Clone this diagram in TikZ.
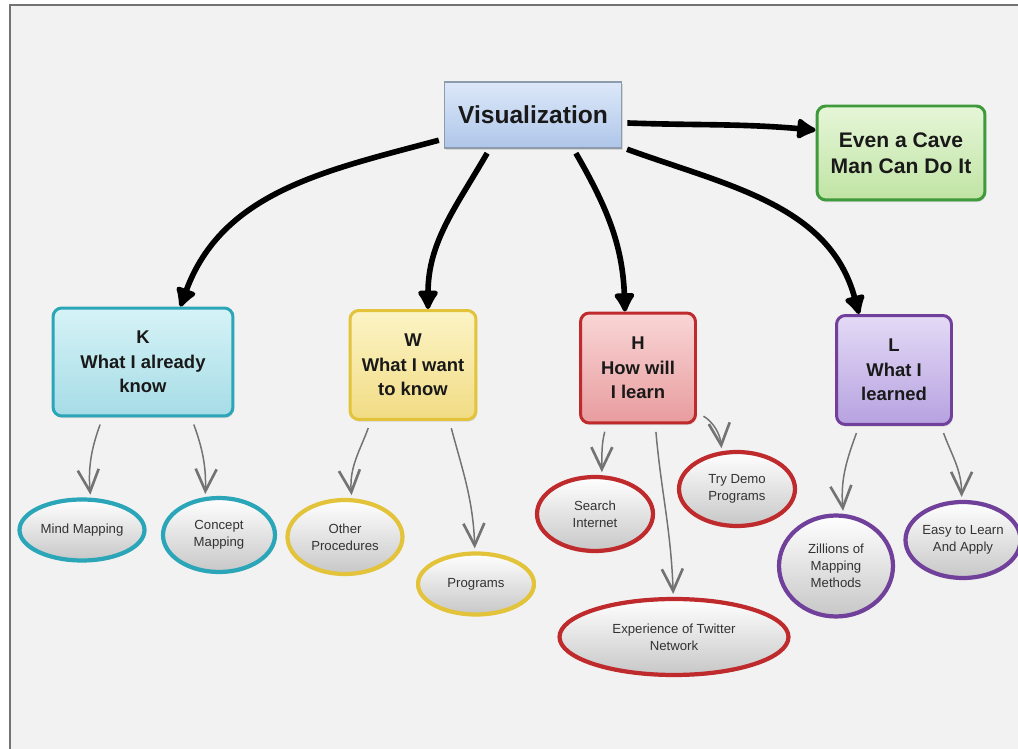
\documentclass[tikz,border=0pt]{standalone}
\usepackage{fontspec}
\setmainfont{Liberation Sans}
\usetikzlibrary{shapes.geometric,arrows.meta,shadows}
\definecolor{vizline}{HTML}{8E9BAA}
\definecolor{vizhi}{HTML}{DCE8F8}
\definecolor{vizlo}{HTML}{AFC6EA}
\definecolor{kline}{HTML}{2AA6B8}
\definecolor{khi}{HTML}{D6F3F7}
\definecolor{klo}{HTML}{A6DCE6}
\definecolor{wline}{HTML}{E2C33A}
\definecolor{whi}{HTML}{FCF4C6}
\definecolor{wlo}{HTML}{F1DC84}
\definecolor{hline}{HTML}{BF2A2C}
\definecolor{hhi}{HTML}{F9D6D6}
\definecolor{hlo}{HTML}{E89C9E}
\definecolor{lline}{HTML}{70409A}
\definecolor{lhi}{HTML}{E4DAF6}
\definecolor{llo}{HTML}{B6A2E0}
\definecolor{cline}{HTML}{3E9A3A}
\definecolor{chi}{HTML}{E6F6D8}
\definecolor{clo}{HTML}{C0E4A4}

\begin{document}
\begin{tikzpicture}[x=0.02cm,y=0.02cm]
\tikzset{box/.style={rectangle, rounded corners=5pt, line width=1.7pt, align=center, text=black!90, font=\bfseries\fontsize{10.5}{14}\selectfont, drop shadow={shadow xshift=0.6pt, shadow yshift=-1.2pt, opacity=0.25}}}
\tikzset{leaf/.style={ellipse, inner sep=0pt, line width=2.4pt, align=center, text=black!80, top color=white, bottom color=black!22, font=\fontsize{7.5}{9.6}\selectfont, drop shadow={shadow xshift=0.5pt, shadow yshift=-1pt, opacity=0.2}}}
\tikzset{connect/.style={-{Latex[length=4.5mm,width=5mm,round]}, line width=3.2pt, black, shorten <=1mm}}
\tikzset{sub/.style={line width=0.85pt, black!55, shorten <=1.5mm, shorten >=0.6mm, -{Straight Barb[length=4.4mm,width=4.2mm,line width=1.5pt]}}}
\useasboundingbox (0,0) rectangle (1018,-749);
\fill[white] (0,0) rectangle (1018,-749);
\fill[black!5] (10,-5) rectangle (1018,-749);
\draw[black!55, line width=0.8pt] (1018,-5) -- (10,-5) -- (10,-749);
% main topic and the four columns
\node[box, rounded corners=0pt, line width=1pt, draw=vizline, top color=vizhi, bottom color=vizlo, minimum width=3.54cm, minimum height=1.32cm, font=\bfseries\fontsize{14}{16}\selectfont] (viz) at (533,-115) {Visualization};
\node[box, draw=cline, top color=chi, bottom color=clo, minimum width=3.36cm, minimum height=1.88cm, font=\bfseries\fontsize{12}{14.7}\selectfont] (cave) at (901,-153) {Even a Cave\\Man Can Do It};
\node[box, draw=kline, top color=khi, bottom color=klo, minimum width=3.6cm, minimum height=2.16cm] (k) at (143,-362) {K\\What I already\\know};
\node[box, draw=wline, top color=whi, bottom color=wlo, minimum width=2.52cm, minimum height=2.18cm] (w) at (413,-365) {W\\What I want\\to know};
\node[box, draw=hline, top color=hhi, bottom color=hlo, minimum width=2.3cm, minimum height=2.2cm] (h) at (638,-368) {H\\How will\\I learn};
\node[box, draw=lline, top color=lhi, bottom color=llo, minimum width=2.3cm, minimum height=2.18cm] (l) at (894,-370) {L\\What I\\learned};
\draw[connect] (viz.195) to[out=195,in=70] (k.56);
\draw[connect] (viz.218) to[out=240,in=90] (w.75);
\draw[connect] (viz.320) to[out=300,in=92] (h.103);
\draw[connect] (viz.340) to[out=-20,in=105] (l.122);
\draw[connect] (viz.355) to[out=-2,in=175] (cave.165);
% ellipses
\node[leaf, draw=kline, minimum width=2.5cm, minimum height=1.22cm] (mind) at (82,-530) {Mind Mapping};
\node[leaf, draw=kline, minimum width=2.24cm, minimum height=1.48cm] (concept) at (219,-535) {Concept\\Mapping};
\node[leaf, draw=wline, minimum width=2.3cm, minimum height=1.48cm] (other) at (345,-537) {Other\\Procedures};
\node[leaf, draw=wline, minimum width=2.32cm, minimum height=1.22cm] (prog) at (476,-584) {Programs};
\node[leaf, draw=hline, minimum width=2.32cm, minimum height=1.48cm] (search) at (595,-514) {Search\\Internet};
\node[leaf, draw=hline, minimum width=2.32cm, minimum height=1.48cm] (demo) at (737,-489) {Try Demo\\Programs};
\node[leaf, draw=hline, minimum width=4.58cm, minimum height=1.52cm] (twitter) at (674,-637) {Experience of Twitter\\Network};
\node[leaf, draw=lline, minimum width=2.28cm, minimum height=2.02cm] (zill) at (836,-566) {Zillions of\\Mapping\\Methods};
\node[leaf, draw=lline, minimum width=2.2cm, minimum height=1.52cm] (easy) at (963,-540) {Easy to Learn\\And Apply};
\draw[sub] (k.234) to[out=250,in=95] (mind.75);
\draw[sub] (k.311) to[out=290,in=88] (concept.110);
\draw[sub] (w.233) to[out=250,in=95] (other.80);
\draw[sub] (w.303) to[out=285,in=92] (prog.92);
\draw[sub] (h.241) to[out=255,in=90] (search.80);
\draw[sub] (h.287) to[out=275,in=92] (twitter.91);
\draw[sub] (h.323) to[out=330,in=95] (demo.112);
\draw[sub] (l.238) to[out=250,in=95] (zill.82);
\draw[sub] (l.310) to[out=290,in=90] (easy.92);
\end{tikzpicture}
\end{document}
